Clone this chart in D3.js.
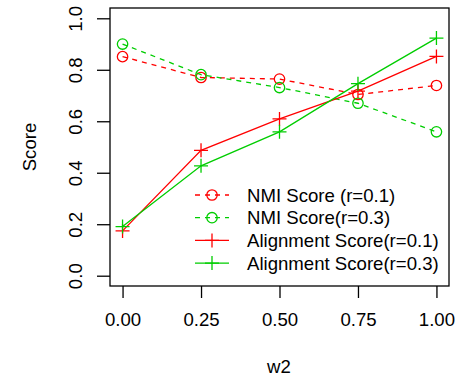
<!DOCTYPE html>
<meta charset="utf-8">
<style>
body { margin: 0; background: #fff; }
text { font-family: "Liberation Sans", Arial, sans-serif; font-size: 18.6px; fill: #000; }
</style>
<svg width="476" height="378"></svg>
<script src="https://d3js.org/d3.v7.min.js"></script>
<script>

var w2 = [0, 0.25, 0.5, 0.75, 1];
var nmi01 = [0.851, 0.770, 0.764, 0.704, 0.739];
var nmi03 = [0.900, 0.781, 0.731, 0.670, 0.559];
var align01 = [0.174, 0.487, 0.609, 0.717, 0.852];
var align03 = [0.191, 0.427, 0.559, 0.746, 0.923];
var xTicks = [0, 0.25, 0.5, 0.75, 1];
var yTicks = [0, 0.2, 0.4, 0.6, 0.8, 1];
var labels = ["NMI Score (r=0.1)", "NMI Score(r=0.3)", "Alignment Score(r=0.1)", "Alignment Score(r=0.3)"];

var svg = d3.select("svg");
var red = "#ff0000", green = "#00cd00";

var series = [
  {vals: nmi01, color: red, dash: "5,5", sym: "circle"},
  {vals: nmi03, color: green, dash: "5,5", sym: "circle"},
  {vals: align01, color: red, dash: null, sym: "plus"},
  {vals: align03, color: green, dash: null, sym: "plus"}
];

// R style 4% padding around data range
var x = d3.scaleLinear().domain([-0.04, 1.04]).range([110, 449]);
var y = d3.scaleLinear().domain([-0.04, 1.04]).range([286, 8]);

// box
svg.append("rect")
    .attr("x", 110).attr("y", 8)
    .attr("width", 339).attr("height", 278)
    .attr("fill", "none").attr("stroke", "#000").attr("stroke-width", 1.3);

var xa = svg.append("g").attr("transform", "translate(0,286)")
    .call(d3.axisBottom(x).tickValues(xTicks).tickSize(12).tickPadding(15)
      .tickFormat(d3.format(".2f")));
xa.select(".domain").remove();

var ya = svg.append("g").attr("transform", "translate(110,0)")
    .call(d3.axisLeft(y).tickValues(yTicks).tickSize(13).tickFormat(d3.format(".1f")));
ya.select(".domain").remove();
ya.selectAll(".tick text")
    .attr("x", null).attr("dy", null)
    .attr("text-anchor", "middle")
    .attr("transform", "translate(-28,0) rotate(-90)");

svg.selectAll(".tick line").attr("stroke", "#000").attr("stroke-width", 1.3);
svg.selectAll(".tick text").style("font-size", "18.6px").attr("fill", "#000");

svg.append("text").attr("x", 279).attr("y", 373).attr("text-anchor", "middle").text("w2");
svg.append("text").attr("text-anchor", "middle")
    .attr("transform", "translate(36,147) rotate(-90)").text("Score");

function drawSym(g, sym, cx, cy, color) {
  if (sym === "circle") {
    g.append("circle").attr("cx", cx).attr("cy", cy).attr("r", 5.2)
      .attr("fill", "none").attr("stroke", color).attr("stroke-width", 1.3);
  } else {
    g.append("path").attr("d", "M" + (cx - 7) + "," + cy + "H" + (cx + 7) + "M" + cx + "," + (cy - 7) + "V" + (cy + 7))
      .attr("stroke", color).attr("stroke-width", 1.3);
  }
}

var line = d3.line().x(function(d, i) { return x(w2[i]); }).y(function(d) { return y(d); });

series.forEach(function(s) {
  var g = svg.append("g");
  g.append("path").datum(s.vals)
    .attr("d", line)
    .attr("fill", "none")
    .attr("stroke", s.color)
    .attr("stroke-width", 1.3)
    .attr("stroke-dasharray", s.dash);
  s.vals.forEach(function(v, i) { drawSym(g, s.sym, x(w2[i]), y(v), s.color); });
});

// legend (bottom right, no box)
var leg = svg.append("g");
series.forEach(function(s, i) {
  var ly = 195 + i * 22.7;
  leg.append("line").attr("x1", 195).attr("x2", 229).attr("y1", ly).attr("y2", ly)
    .attr("stroke", s.color).attr("stroke-width", 1.3).attr("stroke-dasharray", s.dash);
  drawSym(leg, s.sym, 212, ly, s.color);
  leg.append("text").attr("x", 247).attr("y", ly).attr("dy", "0.35em").text(labels[i]);
});

</script>
